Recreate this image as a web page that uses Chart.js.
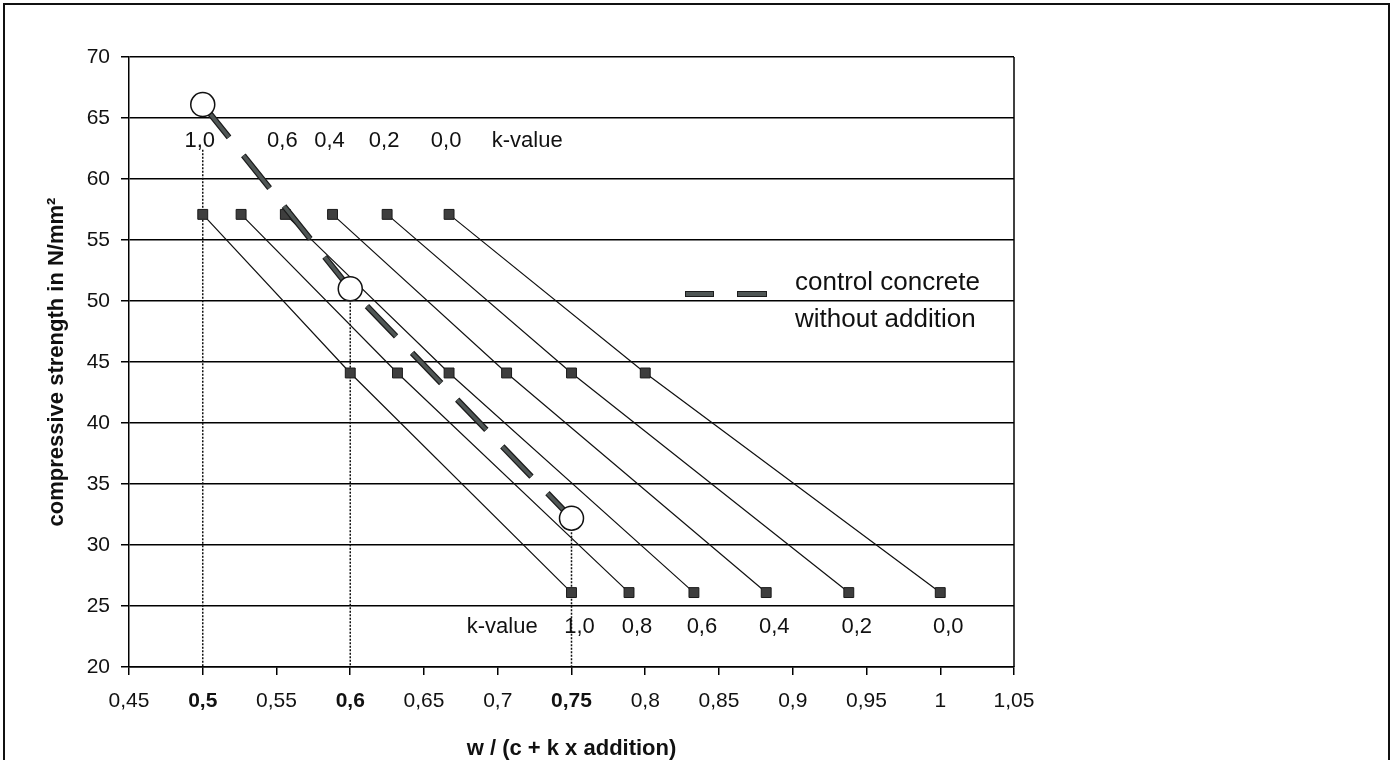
<!DOCTYPE html>
<html>
<head>
<meta charset="utf-8">
<script src="https://cdn.jsdelivr.net/npm/chart.js@4.4.1/dist/chart.umd.min.js"></script>
<style>
  html, body { margin: 0; padding: 0; background: #fff; }
  #wrap { width: 1394px; height: 760px; position: relative; }
</style>
</head>
<body>
<div id="wrap"><canvas id="c" width="1394" height="760"></canvas></div>
<script>
// k-values of the addition (one line per k)
const kValues = [1.0, 0.8, 0.6, 0.4, 0.2, 0.0];
// w/(c + k x addition) at the three strength levels, per k-value
const wcTop    = [0.5, 0.526, 0.556, 0.588, 0.625, 0.667];
const wcMid    = [0.6, 0.632, 0.667, 0.706, 0.75, 0.8];
const wcBottom = [0.75, 0.789, 0.833, 0.882, 0.938, 1.0];
// compressive strength levels (N/mm²) of the three rows
const strengthRows = [57.1, 44.1, 26.1];

// control concrete without addition
const controlWc = [0.5, 0.6, 0.75];
const controlStrength = [66.1, 51.0, 32.2];
// upper ends of the dotted drop lines
const dropTop = [62.4, 51.0, 32.2];

// axis ticks
const xTicks = [0.45, 0.5, 0.55, 0.6, 0.65, 0.7, 0.75, 0.8, 0.85, 0.9, 0.95, 1.0, 1.05];
const yTicks = [20, 25, 30, 35, 40, 45, 50, 55, 60, 65, 70];
const boldTicks = [0.5, 0.6, 0.75];

// k-value captions above the top row and below the bottom row
const topKLabels = ['1,0', '', '0,6', '0,4', '0,2', '0,0'];
const bottomKLabels = ['1,0', '0,8', '0,6', '0,4', '0,2', '0,0'];
const topLabelLevel = 63.1;
const bottomLabelLevel = 23.3;

const FONT = '"Liberation Sans", Arial, Helvetica, sans-serif';
const isBold = v => boldTicks.some(b => Math.abs(b - v) < 1e-9);

// ---- datasets ----
const datasets = [];

// white circles of the control concrete (on top of everything)
datasets.push({
  data: controlWc.map((x, i) => ({ x, y: controlStrength[i] })),
  showLine: false,
  pointStyle: 'circle',
  pointRadius: 12,
  pointBackgroundColor: '#fff',
  pointBorderColor: '#111',
  pointBorderWidth: 1.5,
  order: 0
});

// thick dashed control line: dark rim + grey core
const DASH = [42, 23];
datasets.push({
  data: controlWc.map((x, i) => ({ x, y: controlStrength[i] })),
  showLine: true, pointRadius: 0,
  borderColor: '#4f5655', borderWidth: 3.5, borderDash: DASH, borderCapStyle: 'butt',
  order: 1
});
datasets.push({
  data: controlWc.map((x, i) => ({ x, y: controlStrength[i] })),
  showLine: true, pointRadius: 0,
  borderColor: '#1c1c1c', borderWidth: 6, borderDash: DASH, borderCapStyle: 'butt',
  order: 2
});

// one thin line with square markers per k-value
kValues.forEach((k, i) => {
  datasets.push({
    label: 'k = ' + k,
    data: [
      { x: wcTop[i], y: strengthRows[0] },
      { x: wcMid[i], y: strengthRows[1] },
      { x: wcBottom[i], y: strengthRows[2] }
    ],
    showLine: true,
    borderColor: '#111',
    borderWidth: 1.2,
    pointStyle: 'rect',
    pointRadius: 7,
    pointBackgroundColor: '#3e3e3e',
    pointBorderColor: '#1a1a1a',
    pointBorderWidth: 1,
    order: 3
  });
});

// dotted drop lines to the x axis
controlWc.forEach((x, i) => {
  datasets.push({
    data: [{ x, y: dropTop[i] }, { x, y: 20 }],
    showLine: true, pointRadius: 0,
    borderColor: '#111', borderWidth: 1.5, borderDash: [2, 1.5],
    order: 4
  });
});

// ---- captions, frames and legend ----
const annotate = {
  id: 'annotate',
  beforeDraw(chart) {
    const ctx = chart.ctx;
    ctx.save();
    ctx.fillStyle = '#fff';
    ctx.fillRect(0, 0, chart.width, chart.height);
    ctx.restore();
  },
  afterDraw(chart) {
    const { ctx, chartArea: a, scales: { x, y } } = chart;
    ctx.save();

    // right edge of the plot area
    ctx.strokeStyle = '#000';
    ctx.lineWidth = 1.5;
    ctx.beginPath();
    ctx.moveTo(a.right, a.top);
    ctx.lineTo(a.right, a.bottom);
    ctx.stroke();

    // outer frame
    ctx.lineWidth = 2;
    ctx.strokeStyle = '#111';
    ctx.strokeRect(4, 4, 1385, 800);

    // k-value captions
    ctx.font = '22px ' + FONT;
    ctx.fillStyle = '#111';
    ctx.textAlign = 'center';
    ctx.textBaseline = 'middle';
    const yTop = y.getPixelForValue(topLabelLevel);
    topKLabels.forEach((t, i) => {
      if (t) ctx.fillText(t, x.getPixelForValue(wcTop[i]) - 3, yTop);
    });
    ctx.fillText('k-value', x.getPixelForValue(0.72), yTop);

    const yBot = y.getPixelForValue(bottomLabelLevel);
    bottomKLabels.forEach((t, i) => {
      ctx.fillText(t, x.getPixelForValue(wcBottom[i]) + 8, yBot);
    });
    ctx.fillText('k-value', x.getPixelForValue(0.703), yBot);

    // legend of the control line
    const ly = 294;
    [[685, 29], [737, 30]].forEach(([lx, w]) => {
      ctx.fillStyle = '#4f5655';
      ctx.fillRect(lx, ly - 3, w, 6);
      ctx.strokeStyle = '#1c1c1c';
      ctx.lineWidth = 1;
      ctx.strokeRect(lx + 0.5, ly - 2.5, w - 1, 5);
    });
    ctx.fillStyle = '#111';
    ctx.font = '26px ' + FONT;
    ctx.textAlign = 'left';
    ctx.textBaseline = 'alphabetic';
    ctx.fillText('control concrete', 795, 290);
    ctx.fillText('without addition', 795, 327);

    ctx.restore();
  }
};

new Chart(document.getElementById('c'), {
  type: 'scatter',
  data: { datasets },
  plugins: [annotate],
  options: {
    responsive: false,
    animation: false,
    layout: { padding: { left: 0, top: 57, right: 380, bottom: 0 } },
    plugins: { legend: { display: false }, tooltip: { enabled: false } },
    elements: { line: { tension: 0 } },
    scales: {
      x: {
        type: 'linear',
        min: 0.45, max: 1.05,
        afterBuildTicks: s => { s.ticks = xTicks.map(v => ({ value: v })); },
        afterFit: s => { s.height = 93; },
        ticks: {
          autoSkip: false, maxRotation: 0, minRotation: 0,
          padding: 14,
          color: '#111',
          font: c => ({ family: FONT, size: 21, weight: (c.tick && isBold(c.tick.value)) ? 'bold' : 'normal' }),
          callback: v => String(v).replace('.', ',')
        },
        grid: { drawOnChartArea: false, drawTicks: true, tickLength: 8, color: '#000', lineWidth: 1.5 },
        border: { display: true, color: '#000', width: 1.5 },
        title: {
          display: true,
          text: 'w / (c + k x addition)',
          color: '#111',
          font: { family: FONT, size: 22, weight: 'bold', lineHeight: 1 },
          padding: { top: 0, bottom: 0 }
        }
      },
      y: {
        type: 'linear',
        min: 20, max: 70,
        afterBuildTicks: s => { s.ticks = yTicks.map(v => ({ value: v })); },
        afterFit: s => { s.width = 129; },
        ticks: { padding: 11, color: '#111', font: { family: FONT, size: 21 } },
        grid: { color: '#000', lineWidth: 1.5, tickLength: 8 },
        border: { display: true, color: '#000', width: 1.5 },
        title: {
          display: true,
          text: 'compressive strength in N/mm²',
          color: '#111',
          font: { family: FONT, size: 22, weight: 'bold', lineHeight: 1 },
          padding: { top: 46, bottom: 0 }
        }
      }
    }
  }
});
</script>
</body>
</html>
